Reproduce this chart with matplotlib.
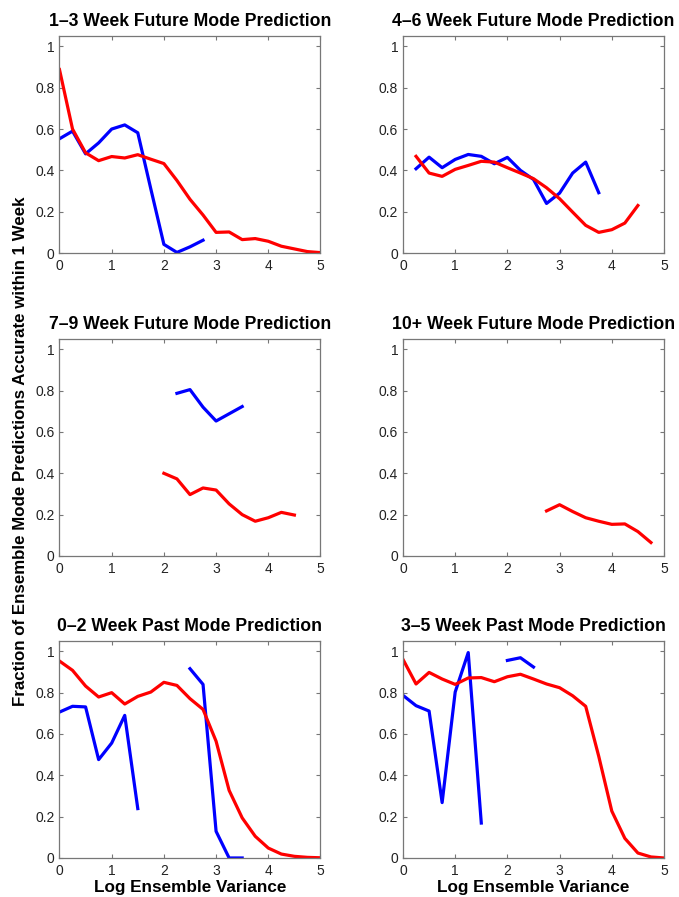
import numpy as np
import matplotlib
matplotlib.use('Agg')
import matplotlib.pyplot as plt

plt.rcParams['font.family'] = ['Liberation Sans', 'DejaVu Sans']

nan = np.nan
x = np.arange(0, 5.01, 0.25)

titles = ['1\u20133 Week Future Mode Prediction', '4\u20136 Week Future Mode Prediction',
          '7\u20139 Week Future Mode Prediction', '10+ Week Future Mode Prediction',
          '0\u20132 Week Past Mode Prediction', '3\u20135 Week Past Mode Prediction']

# red curves (one value per x step of 0.25, nan where missing)
red1 = [0.888, 0.60, 0.485, 0.447, 0.467, 0.46, 0.476, 0.454, 0.433, 0.351, 0.26,
        0.184, 0.10, 0.102, 0.065, 0.07, 0.057, 0.033, 0.02, 0.007, 0.002]
red2 = [nan, 0.468, 0.387, 0.371, 0.405, 0.424, 0.444, 0.44, 0.413, 0.387, 0.36,
        0.316, 0.263, 0.198, 0.134, 0.10, 0.113, 0.145, 0.23, nan, nan]
red3 = [nan, nan, nan, nan, nan, nan, nan, nan, 0.40, 0.373, 0.297,
        0.329, 0.319, 0.252, 0.20, 0.168, 0.185, 0.211, 0.198, nan, nan]
red4 = [nan, nan, nan, nan, nan, nan, nan, nan, nan, nan, nan,
        0.218, 0.248, 0.215, 0.185, 0.168, 0.153, 0.155, 0.118, 0.065, nan]
red5 = [0.953, 0.908, 0.832, 0.779, 0.80, 0.745, 0.782, 0.803, 0.85, 0.835, 0.771,
        0.719, 0.565, 0.327, 0.194, 0.105, 0.048, 0.019, 0.008, 0.003, 0.001]
red6 = [0.961, 0.842, 0.898, 0.866, 0.84, 0.871, 0.873, 0.853, 0.877, 0.889, 0.866,
        0.842, 0.824, 0.785, 0.734, 0.492, 0.227, 0.095, 0.024, 0.005, 0.0]

# blue curves
blue1 = [0.553, 0.59, 0.48, 0.533, 0.60, 0.62, 0.582, 0.31, 0.042, 0.003, 0.03,
         0.062, nan, nan, nan, nan, nan, nan, nan, nan, nan]
blue2 = [nan, 0.408, 0.464, 0.413, 0.453, 0.477, 0.468, 0.432, 0.463, 0.40, 0.356,
         0.24, 0.29, 0.387, 0.44, 0.292, nan, nan, nan, nan, nan]
blue3 = [nan, nan, nan, nan, nan, nan, nan, nan, nan, 0.787, 0.805,
         0.72, 0.653, 0.688, 0.723, nan, nan, nan, nan, nan, nan]
blue4 = [nan] * 21
blue5 = [0.706, 0.734, 0.731, 0.476, 0.556, 0.69, 0.239, nan, nan, nan, 0.916,
         0.84, 0.129, 0.0, 0.0, nan, nan, nan, nan, nan, nan]
blue6 = [0.787, 0.737, 0.711, 0.268, 0.803, 0.994, 0.169, nan, 0.956, 0.969, 0.924,
         nan, nan, nan, nan, nan, nan, nan, nan, nan, nan]

reds = [red1, red2, red3, red4, red5, red6]
blues = [blue1, blue2, blue3, blue4, blue5, blue6]

xticks = [0, 1, 2, 3, 4, 5]
yticks = [0, 0.2, 0.4, 0.6, 0.8, 1]
ytick_labels = ['0', '0.2', '0.4', '0.6', '0.8', '1']

fig = plt.figure(figsize=(6.79, 8.97), dpi=100)
lefts = [0.0876, 0.5935]
bottoms = [0.7179, 0.3802, 0.0435]
w, h = 0.3844, 0.2419

for i in range(6):
    ax = fig.add_axes([lefts[i % 2], bottoms[i // 2], w, h])
    ax.plot(x, blues[i], color='#0000ff', linewidth=2.3)
    ax.plot(x, reds[i], color='#ff0000', linewidth=2.3)
    ax.set_xlim(0, 5)
    ax.set_ylim(0, 1.05)
    ax.set_xticks(xticks)
    ax.set_yticks(yticks)
    ax.set_yticklabels(ytick_labels)
    ax.tick_params(direction='in', top=True, right=True, length=3, width=0.8,
                   labelsize=10, colors='#777777', labelcolor='#222222', pad=3.5)
    ax.tick_params(axis='x', pad=4.5)
    for s in ax.spines.values():
        s.set_color('#777777')
        s.set_linewidth(0.9)
    ax.set_title(titles[i], fontsize=12.7, fontweight='bold', pad=7.5)
    if i >= 4:
        ax.set_xlabel('Log Ensemble Variance', fontsize=12.3, fontweight='bold', labelpad=1)

fig.text(0.03, 0.497, 'Fraction of Ensemble Mode Predictions Accurate within 1 Week',
         rotation=90, ha='center', va='center', fontsize=12.2, fontweight='bold')

fig.savefig('out.png', dpi=100)
